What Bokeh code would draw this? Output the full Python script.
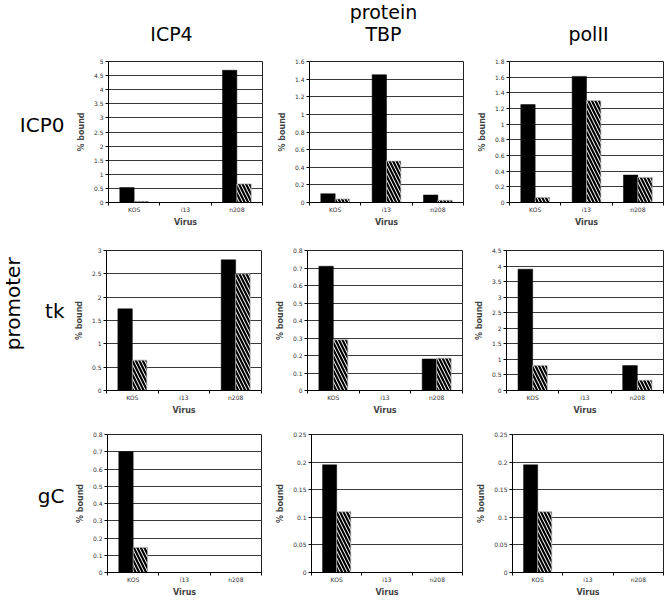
import numpy as np
from bokeh.plotting import figure
from bokeh.layouts import row, column
from bokeh.models import Range1d, FixedTicker, Label, ColumnDataSource
from bokeh.transform import dodge
from bokeh.embed import file_html
from bokeh.resources import INLINE

# ---------------- data ----------------
categories = ["KOS", "i13", "n208"]
proteins = ["ICP4", "TBP", "polII"]
promoters = ["ICP0", "tk", "gC"]
column_heading = "protein"
row_heading = "promoter"
x_label = "Virus"
y_label = "% bound"

# % bound, solid (black) and hatched series
icp0_icp4_solid = [0.53, 0.0, 4.69]
icp0_icp4_hatched = [0.04, 0.0, 0.66]
icp0_tbp_solid = [0.10, 1.45, 0.085]
icp0_tbp_hatched = [0.04, 0.47, 0.025]
icp0_polii_solid = [1.25, 1.61, 0.35]
icp0_polii_hatched = [0.065, 1.30, 0.32]

tk_icp4_solid = [1.75, 0.0, 2.80]
tk_icp4_hatched = [0.65, 0.0, 2.50]
tk_tbp_solid = [0.71, 0.0, 0.18]
tk_tbp_hatched = [0.29, 0.0, 0.185]
tk_polii_solid = [3.9, 0.0, 0.8]
tk_polii_hatched = [0.8, 0.0, 0.33]

gc_icp4_solid = [0.70, 0.0, 0.0]
gc_icp4_hatched = [0.145, 0.0, 0.0]
gc_tbp_solid = [0.195, 0.0, 0.0]
gc_tbp_hatched = [0.11, 0.0, 0.0]
gc_polii_solid = [0.195, 0.0, 0.0]
gc_polii_hatched = [0.11, 0.0, 0.0]

# y tick labels
icp0_icp4_ticks = ["0", "0.5", "1", "1.5", "2", "2.5", "3", "3.5", "4", "4.5", "5"]
icp0_tbp_ticks = ["0", "0.2", "0.4", "0.6", "0.8", "1", "1.2", "1.4", "1.6"]
icp0_polii_ticks = ["0", "0.2", "0.4", "0.6", "0.8", "1", "1.2", "1.4", "1.6", "1.8"]
tk_icp4_ticks = ["0", "0.5", "1", "1.5", "2", "2.5", "3"]
tk_tbp_ticks = ["0", "0.1", "0.2", "0.3", "0.4", "0.5", "0.6", "0.7", "0.8"]
tk_polii_ticks = ["0", "0.5", "1", "1.5", "2", "2.5", "3", "3.5", "4", "4.5"]
gc_icp4_ticks = ["0", "0.1", "0.2", "0.3", "0.4", "0.5", "0.6", "0.7", "0.8"]
gc_tbp_ticks = ["0", "0.05", "0.1", "0.15", "0.2", "0.25"]
gc_polii_ticks = ["0", "0.05", "0.1", "0.15", "0.2", "0.25"]

# ---------------- style ----------------
FONT = "DejaVu Sans"
BAR_W = 0.28
GRID = "#3a3a3a"


def panel(solid, hatched, ticks, left, fw, fh, top, bottom):
    vals = [float(t) for t in ticks]
    n = len(categories)
    p = figure(frame_width=fw, frame_height=fh,
               x_range=Range1d(0, n), y_range=Range1d(0, vals[-1]),
               output_backend="svg", toolbar_location=None, tools="",
               min_border_left=left, min_border_right=1,
               min_border_top=top, min_border_bottom=bottom)
    centers = np.arange(n) + 0.5
    src = ColumnDataSource(dict(x=centers, cat=categories,
                                solid=solid, hatched=hatched))
    p.vbar(x=dodge("x", -BAR_W / 2), top="solid", width=BAR_W, source=src,
           fill_color="black", line_color="black", line_width=0.5)
    p.vbar(x=dodge("x", BAR_W / 2), top="hatched", width=BAR_W, source=src,
           fill_color="white", line_color="#aaaaaa", line_width=0.7,
           hatch_pattern="\\", hatch_color="black", hatch_scale=7,
           hatch_weight=2.2)

    p.outline_line_color = "#222222"
    p.outline_line_width = 1
    p.xgrid.visible = False
    p.ygrid.grid_line_color = GRID
    p.ygrid.grid_line_width = 1

    xa = p.xaxis[0]
    xa.ticker = FixedTicker(ticks=list(centers), minor_ticks=list(range(n + 1)))
    xa.major_label_overrides = {float(c): lab for c, lab in zip(centers, categories)}
    xa.major_tick_out = 0
    xa.major_tick_in = 0
    xa.minor_tick_out = 3
    xa.minor_tick_in = 0
    xa.major_label_standoff = 0
    xa.major_label_text_font = FONT
    xa.major_label_text_font_size = "6px"
    xa.major_label_text_color = "#333333"
    xa.axis_label = x_label
    xa.axis_label_text_font = FONT
    xa.axis_label_text_font_size = "8px"
    xa.axis_label_text_font_style = "bold"
    xa.axis_label_standoff = 2
    xa.axis_line_color = "black"
    xa.minor_tick_line_color = "black"

    ya = p.yaxis[0]
    ya.ticker = FixedTicker(ticks=vals, minor_ticks=[])
    ya.major_label_overrides = {v: t for v, t in zip(vals, ticks)}
    ya.major_tick_out = 3
    ya.major_tick_in = 0
    ya.major_label_standoff = 2
    ya.major_label_text_font = FONT
    ya.major_label_text_font_size = "6px"
    ya.major_label_text_color = "#333333"
    ya.axis_label = y_label
    ya.axis_label_text_font = FONT
    ya.axis_label_text_font_size = "8px"
    ya.axis_label_text_font_style = "bold"
    ya.axis_label_standoff = 5
    ya.axis_line_color = "black"
    ya.major_tick_line_color = "black"
    return p


def blank(width, height):
    p = figure(width=width, height=height, x_range=Range1d(0, width),
               y_range=Range1d(height, 0), x_axis_type=None, y_axis_type=None,
               output_backend="svg", toolbar_location=None, tools="",
               min_border=0)
    p.outline_line_color = None
    p.grid.visible = False
    return p


def side_label(height, txt, y, heading=None, hy=None):
    s = blank(66, height)
    s.add_layout(Label(x=64, y=y, text=txt, text_align="right",
                       text_baseline="middle", text_font=FONT,
                       text_font_size="20px", text_color="black"))
    if heading:
        s.add_layout(Label(x=12, y=hy, text=heading, angle=np.pi / 2,
                           text_align="center", text_baseline="middle",
                           text_font=FONT, text_font_size="20px",
                           text_color="black"))
    return s


# ---------------- header ----------------
header = blank(664, 46)
for txt, x, y in [(column_heading, 383, 11.5), (proteins[0], 171, 33),
                  (proteins[1], 383, 33), (proteins[2], 588, 33)]:
    header.add_layout(Label(x=x, y=y, text=txt, text_align="center",
                            text_baseline="middle", text_font=FONT,
                            text_font_size="19px", text_color="black"))

# ---------------- rows ----------------
r1 = row(
    side_label(194, promoters[0], 87),
    panel(icp0_icp4_solid, icp0_icp4_hatched, icp0_icp4_ticks, 42, 154, 141, 15, 38),
    panel(icp0_tbp_solid, icp0_tbp_hatched, icp0_tbp_ticks, 46, 154, 141, 15, 38),
    panel(icp0_polii_solid, icp0_polii_hatched, icp0_polii_ticks, 45, 154, 141, 15, 38),
)
r2 = row(
    side_label(184, promoters[1], 79, row_heading, 70),
    panel(tk_icp4_solid, tk_icp4_hatched, tk_icp4_ticks, 40, 155, 140, 10, 34),
    panel(tk_tbp_solid, tk_tbp_hatched, tk_tbp_ticks, 45, 155, 140, 10, 34),
    panel(tk_polii_solid, tk_polii_hatched, tk_polii_ticks, 43, 157, 140, 10, 34),
)
r3 = row(
    side_label(175, promoters[2], 78),
    panel(gc_icp4_solid, gc_icp4_hatched, gc_icp4_ticks, 41, 154, 138, 10, 27),
    panel(gc_tbp_solid, gc_tbp_hatched, gc_tbp_ticks, 49, 151, 138, 10, 27),
    panel(gc_polii_solid, gc_polii_hatched, gc_polii_ticks, 49, 151, 138, 10, 27),
)

layout = column(header, r1, r2, r3)

open("out.html", "w").write(file_html(layout, INLINE))
